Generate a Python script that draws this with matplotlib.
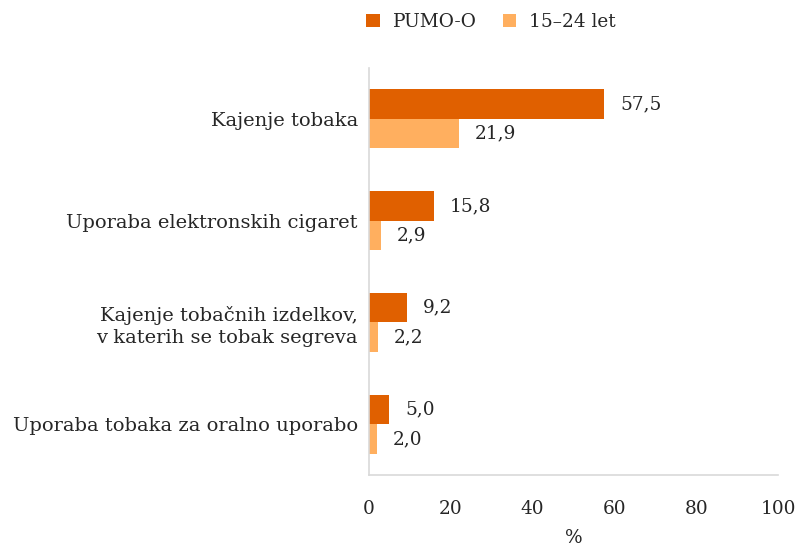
import matplotlib
matplotlib.use("Agg")
import matplotlib.pyplot as plt
import numpy as np

categories = ["Kajenje tobaka", "Uporaba elektronskih cigaret",
              "Kajenje tobačnih izdelkov,\nv katerih se tobak segreva",
              "Uporaba tobaka za oralno uporabo"]
pumo = [57.5, 15.8, 9.2, 5.0]
young = [21.9, 2.9, 2.2, 2.0]
series_names = ["PUMO-O", "15–24 let"]
xticks = [0, 20, 40, 60, 80, 100]

c_dark = "#E06000"
c_light = "#FFAF5F"
txt = "#262626"
fs = 13.3

plt.rcParams['font.family'] = ['DejaVu Serif']
fig = plt.figure(figsize=(7.99, 5.47), dpi=100)
ax = fig.add_axes([369/799, 1 - 475/547, (778-369)/799, (475-68)/547])

y = np.arange(len(categories))
h = 0.29
b1 = ax.barh(y - h/2, pumo, height=h, color=c_dark, label=series_names[0])
b2 = ax.barh(y + h/2, young, height=h, color=c_light, label=series_names[1])

def fmt(v):
    return f"{v:.1f}".replace(".", ",")

for bars, vals in ((b1, pumo), (b2, young)):
    for bar, v in zip(bars, vals):
        ax.annotate(fmt(v), (v, bar.get_y() + bar.get_height()/2),
                    xytext=(11.5, 0), textcoords="offset points",
                    ha="left", va="center", fontsize=fs, color=txt)

ax.set_ylim(len(categories) - 0.5, -0.5)
ax.set_xlim(0, 100)
ax.set_yticks(y)
ax.set_yticklabels(categories, fontsize=14, color=txt, linespacing=1.3)
ax.set_xticks(xticks)
ax.set_xticklabels([str(t) for t in xticks], fontsize=fs, color=txt)
ax.tick_params(axis="both", length=0)
ax.tick_params(axis="x", pad=18)
ax.tick_params(axis="y", pad=8)
ax.set_xlabel("%", fontsize=fs, color=txt, labelpad=8)
for s in ("top", "right"):
    ax.spines[s].set_visible(False)
for s in ("left", "bottom"):
    ax.spines[s].set_color("#D9D9D9")
    ax.spines[s].set_linewidth(1.2)

fig.legend(handles=[b1, b2], labels=series_names, loc="center",
           bbox_to_anchor=(491/799, 1 - 22/547), ncol=2, frameon=False,
           fontsize=fs, handlelength=0.75, handleheight=0.75,
           columnspacing=1.4, handletextpad=0.7, labelcolor=txt)

fig.savefig("out.png", dpi=100)
